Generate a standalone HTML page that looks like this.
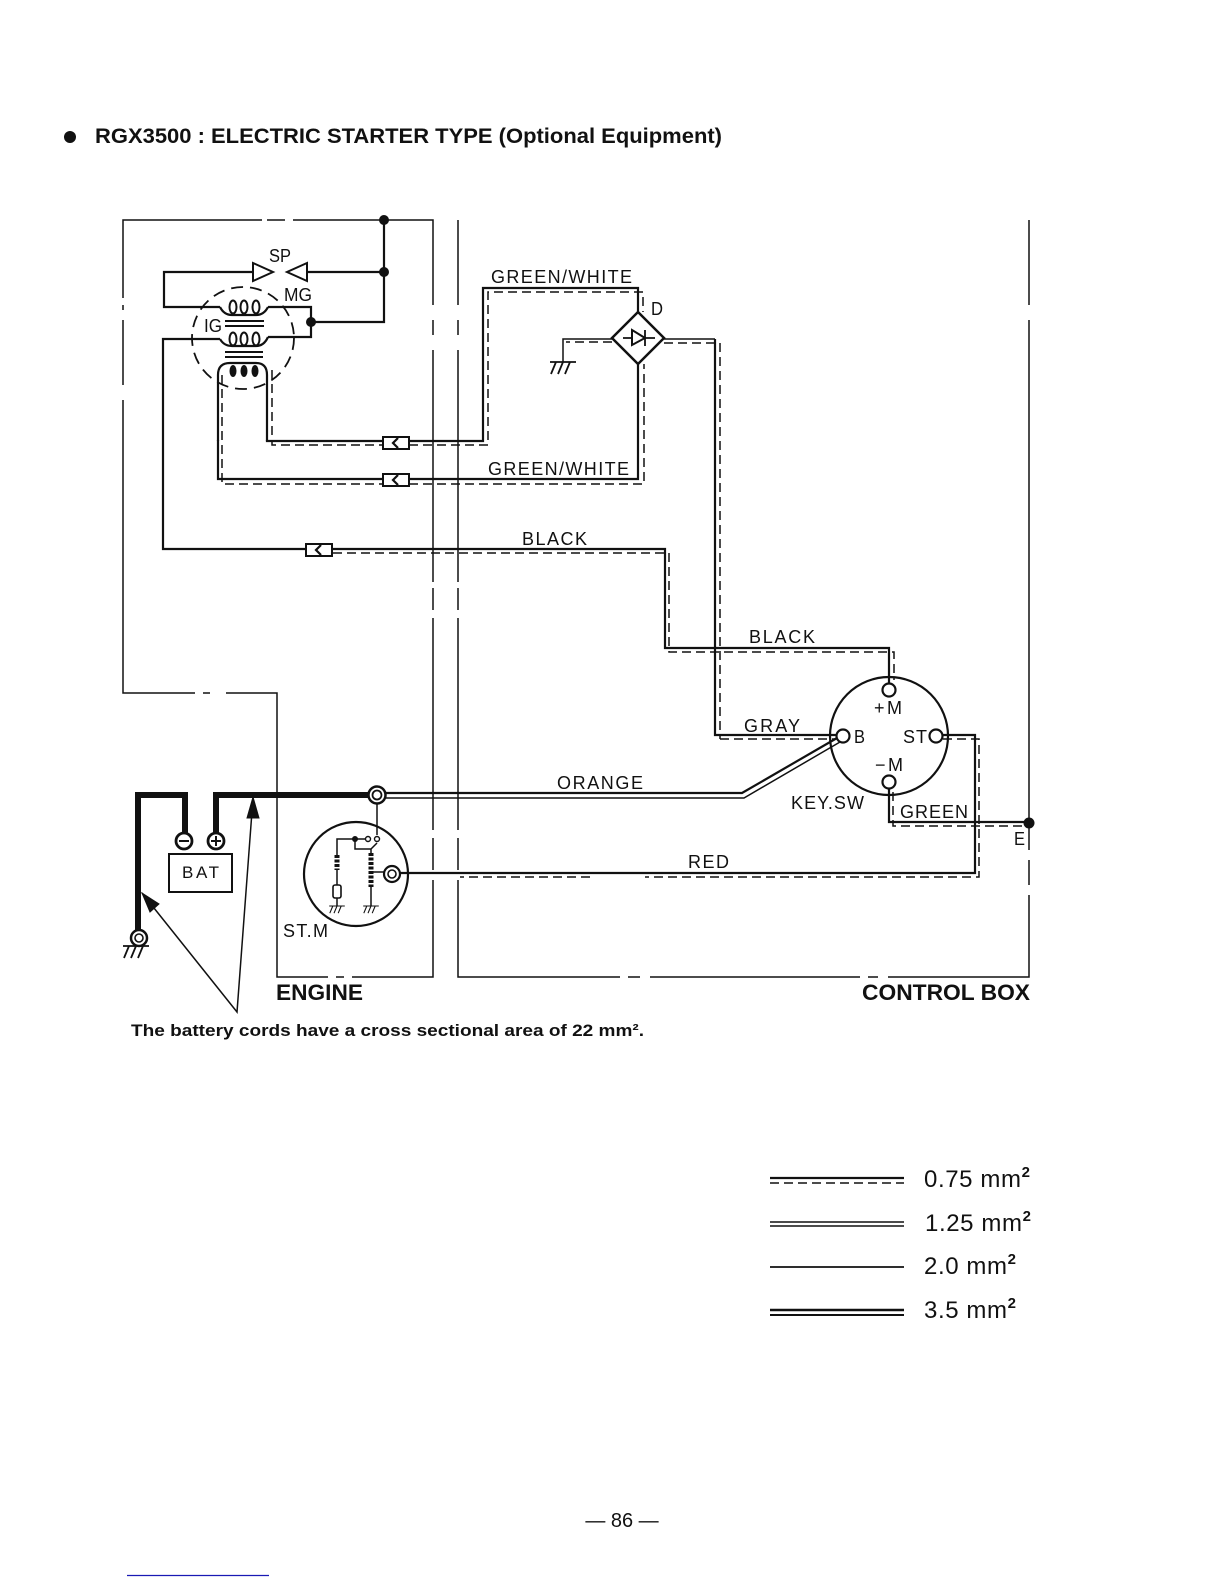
<!DOCTYPE html>
<html><head><meta charset="utf-8"><style>
html,body{margin:0;padding:0;background:#fff}
svg{display:block}
text{font-family:"Liberation Sans",sans-serif;fill:#111}
.w{fill:none;stroke:#111;stroke-width:2.2;stroke-linejoin:miter}
.t{fill:none;stroke:#111;stroke-width:1.5}
.d{fill:none;stroke:#111;stroke-width:1.5;stroke-dasharray:9 5}
.k{fill:none;stroke:#111;stroke-width:6}
.l{font-size:18px}
</style></head><body>
<svg width="1224" height="1584" viewBox="0 0 1224 1584" xmlns="http://www.w3.org/2000/svg">
<defs>
<g id="gnd"><path d="M-13 0H13M-7 0L-12 12M0 0L-5 12M7 0L2 12" fill="none" stroke="#111" stroke-width="1.8"/></g>
<g id="conn"><rect x="0" y="0" width="26" height="12" fill="#fff" stroke="#111" stroke-width="2"/><path d="M15 1L10 6L15 11" fill="none" stroke="#111" stroke-width="2.2"/></g>
</defs>
<circle cx="70" cy="137" r="6" fill="#111"/>
<text x="95" y="143" font-size="21" font-weight="bold" textLength="627" lengthAdjust="spacingAndGlyphs">RGX3500 : ELECTRIC STARTER TYPE (Optional Equipment)</text>

<!-- box outlines -->
<path class="t" d="M123 298V220H262M267 220H285M293 220H433V305M433 320V335M433 350V582M433 588V610M433 618V830M433 838V870M433 880V977H352M344 977H336M328 977H277V693H226M210 693H203M195 693H123V400M123 385V320M123 310V305"/>
<path class="t" d="M458 220V305M458 320V335M458 350V582M458 588V610M458 618V830M458 838V870M458 880V977H620M628 977H640M650 977H860M868 977H878M888 977H1029V895M1029 885V860M1029 850V320M1029 335V320M1029 305V220"/>

<!-- top wiring -->
<path class="w" d="M384 220V322H311M384 272H307M253 272H164V307H220M268 307H311V337H268M220 339H163V549H305"/>
<circle cx="384" cy="220" r="5" fill="#111"/><circle cx="384" cy="272" r="5" fill="#111"/><circle cx="311" cy="322" r="5" fill="#111"/>
<path d="M253 263L273 272L253 281Z M307 263L287 272L307 281Z" fill="#fff" stroke="#111" stroke-width="2"/>
<text class="l" x="269" y="262" textLength="22" lengthAdjust="spacingAndGlyphs">SP</text>
<text class="l" x="284" y="301" textLength="28" lengthAdjust="spacingAndGlyphs">MG</text>
<text class="l" x="204" y="332" textLength="18" lengthAdjust="spacingAndGlyphs">IG</text>
<circle cx="243" cy="338" r="51" fill="none" stroke="#111" stroke-width="1.8" stroke-dasharray="12 7"/>
<path class="w" d="M220 307Q224 315 232 315H256Q264 315 268 307M220 339Q224 346 232 346H256Q264 346 268 337M218 441V375Q218 363 230 363H256Q267 363 267 375V441"/>
<g fill="none" stroke="#111" stroke-width="2"><ellipse cx="233" cy="307" rx="3.5" ry="6.5"/><ellipse cx="244" cy="307" rx="3.5" ry="6.5"/><ellipse cx="256" cy="307" rx="3.5" ry="6.5"/><ellipse cx="233" cy="339" rx="3.5" ry="6.5"/><ellipse cx="244" cy="339" rx="3.5" ry="6.5"/><ellipse cx="256" cy="339" rx="3.5" ry="6.5"/></g>
<g fill="#111"><ellipse cx="233" cy="371" rx="3.5" ry="6"/><ellipse cx="244" cy="371" rx="3.5" ry="6"/><ellipse cx="255" cy="371" rx="3.5" ry="6"/></g>
<path d="M225 321H264M225 326H264M225 352H263M225 357H263" stroke="#111" stroke-width="2" fill="none"/>

<!-- ignition wiring -->
<path class="w" d="M218 440V479H383M267 440V441H383"/>
<path class="d" d="M222 375V484H383M272 370V445H383"/>
<path class="w" d="M409 441H483V288H638V312"/>
<path class="d" d="M409 445H488V292H643V312"/>
<path class="w" d="M409 479H638V364"/>
<path class="d" d="M409 484H644V364"/>
<use href="#conn" x="383" y="437"/><use href="#conn" x="383" y="474"/>
<text class="l" x="491" y="283" textLength="141" lengthAdjust="spacing">GREEN/WHITE</text>
<text class="l" x="488" y="475" textLength="141" lengthAdjust="spacing">GREEN/WHITE</text>
<text class="l" x="651" y="315" textLength="12" lengthAdjust="spacingAndGlyphs">D</text>

<!-- rectifier -->
<path d="M638 312L664 338L638 364L612 338Z" fill="#fff" stroke="#111" stroke-width="2.5"/>
<path d="M623 338H655M645 330V346" stroke="#111" stroke-width="1.8" fill="none"/><path d="M632 330L645 338L632 345Z" fill="#fff" stroke="#111" stroke-width="2"/>
<path class="t" d="M612 339H563V362"/>
<path class="d" d="M612 342H566"/>
<use href="#gnd" x="563" y="362"/>
<path class="t" d="M664 339H715"/><path class="d" d="M664 343H720V739"/>
<path class="w" d="M715 339V735H837"/>
<path class="d" d="M720 739H835"/>
<text class="l" x="744" y="732" textLength="56" lengthAdjust="spacing">GRAY</text>

<!-- black -->
<use href="#conn" x="306" y="544" />
<path class="w" d="M333 549H665V648H889V684"/>
<path class="d" d="M333 553H669V652H894V680"/>
<text class="l" x="522" y="545" font-size="17" textLength="65" lengthAdjust="spacing">BLACK</text>
<text class="l" x="749" y="643" textLength="66" lengthAdjust="spacing">BLACK</text>

<!-- key switch -->
<circle cx="889" cy="736" r="59" fill="none" stroke="#111" stroke-width="2.2"/>
<circle cx="889" cy="690" r="6.5" fill="#fff" stroke="#111" stroke-width="2.2"/>
<circle cx="889" cy="782" r="6.5" fill="#fff" stroke="#111" stroke-width="2.2"/>
<circle cx="843" cy="736" r="6.5" fill="#fff" stroke="#111" stroke-width="2.2"/>
<circle cx="936" cy="736" r="6.5" fill="#fff" stroke="#111" stroke-width="2.2"/>
<text class="l" x="874" y="714" textLength="28" lengthAdjust="spacing">+M</text>
<text class="l" x="854" y="743" textLength="11" lengthAdjust="spacingAndGlyphs">B</text>
<text class="l" x="903" y="743" textLength="24" lengthAdjust="spacing">ST</text>
<text class="l" x="875" y="771" textLength="28" lengthAdjust="spacing">−M</text>
<text class="l" x="791" y="809" textLength="73" lengthAdjust="spacing">KEY.SW</text>
<text class="l" x="900" y="818" textLength="68" lengthAdjust="spacing">GREEN</text>
<text class="l" x="1014" y="845" textLength="11" lengthAdjust="spacingAndGlyphs">E</text>
<path class="w" d="M943 735H975V873H400"/>
<path class="d" d="M943 739H979V877H645M590 877H460"/>
<path class="w" d="M889 789V822H1029"/>
<path class="d" d="M893 792V826H1029"/>
<circle cx="1029" cy="823" r="5.5" fill="#111"/>
<text class="l" x="688" y="868" textLength="41" lengthAdjust="spacing">RED</text>

<!-- orange -->
<path class="w" d="M386 793H742L837 738"/>
<path class="t" d="M386 798H744L840 742"/>
<text class="l" x="557" y="789" textLength="86" lengthAdjust="spacing">ORANGE</text>

<!-- battery -->
<path class="k" d="M138 932V795H185V833M216 833V795H368"/>
<circle cx="184" cy="841" r="8" fill="#fff" stroke="#111" stroke-width="2.8"/><path d="M179 841H189" stroke="#111" stroke-width="2"/>
<circle cx="216" cy="841" r="8" fill="#fff" stroke="#111" stroke-width="2.8"/><path d="M211 841H221M216 836V846" stroke="#111" stroke-width="2"/>
<rect x="169" y="854" width="63" height="38" fill="#fff" stroke="#111" stroke-width="2"/>
<text x="182" y="878" font-size="17" textLength="37" lengthAdjust="spacing">BAT</text>
<circle cx="377" cy="795" r="8.5" fill="#fff" stroke="#111" stroke-width="2.5"/><circle cx="377" cy="795" r="4.5" fill="none" stroke="#111" stroke-width="1.8"/>
<circle cx="139" cy="938" r="8" fill="#fff" stroke="#111" stroke-width="2.5"/><circle cx="139" cy="938" r="4" fill="none" stroke="#111" stroke-width="1.6"/>
<use href="#gnd" x="136" y="946"/>

<!-- starter -->
<path class="t" d="M377 804V835"/>
<circle cx="356" cy="874" r="52" fill="none" stroke="#111" stroke-width="2.2"/>
<path class="t" d="M368 839H337V855M337 870V885M337 898V906M355 839V849H371V853M371 887V906M371 872H384M377 843L371 849"/>
<circle cx="355" cy="839" r="3" fill="#111"/>
<circle cx="368" cy="839" r="2.5" fill="#fff" stroke="#111" stroke-width="1.4"/><circle cx="377" cy="839" r="2.5" fill="#fff" stroke="#111" stroke-width="1.4"/>
<path d="M337 855V870M371 853V887" stroke="#111" stroke-width="5" stroke-dasharray="3 1.5" fill="none"/>
<rect x="333" y="885" width="8" height="13" rx="2" fill="#fff" stroke="#111" stroke-width="1.6"/>
<g transform="translate(337 906) scale(.6)"><use href="#gnd"/></g><g transform="translate(371 906) scale(.6)"><use href="#gnd"/></g>
<circle cx="392" cy="874" r="8" fill="#fff" stroke="#111" stroke-width="2.2"/><circle cx="392" cy="874" r="4" fill="none" stroke="#111" stroke-width="1.6"/>
<text class="l" x="283" y="937" textLength="45" lengthAdjust="spacing">ST.M</text>

<!-- callout -->
<path class="t" d="M142 893L237 1012L253 798" stroke-width="1.3"/>
<path d="M142 893L159 904L150 912Z M253 797L259 818L247 818Z" fill="#111" stroke="#111"/>
<text x="276" y="1000" font-size="22" font-weight="bold" textLength="87" lengthAdjust="spacingAndGlyphs">ENGINE</text>
<text x="862" y="1000" font-size="22" font-weight="bold" textLength="168" lengthAdjust="spacingAndGlyphs">CONTROL BOX</text>
<text x="131" y="1036" font-size="17" font-weight="bold" textLength="513" lengthAdjust="spacingAndGlyphs">The battery cords have a cross sectional area of 22 mm².</text>

<!-- legend -->
<path d="M770 1178H904" stroke="#111" stroke-width="2.2"/><path class="d" d="M770 1183H904" stroke-width="1.6"/>
<path d="M770 1222H904M770 1226H904" stroke="#111" stroke-width="1.5"/>
<path d="M770 1267H904" stroke="#111" stroke-width="1.8"/>
<path d="M770 1310H904" stroke="#111" stroke-width="2.4"/><path d="M770 1315H904" stroke="#111" stroke-width="2"/>
<g font-size="24" letter-spacing=".6"><text x="924" y="1187">0.75 mm<tspan font-size="15" font-weight="bold" dy="-10">2</tspan></text>
<text x="925" y="1231">1.25 mm<tspan font-size="15" font-weight="bold" dy="-10">2</tspan></text>
<text x="924" y="1274">2.0 mm<tspan font-size="15" font-weight="bold" dy="-10">2</tspan></text>
<text x="924" y="1318">3.5 mm<tspan font-size="15" font-weight="bold" dy="-10">2</tspan></text></g>

<text x="622" y="1527" font-size="20" text-anchor="middle">— 86 —</text>
<path d="M127 1575.5H269" stroke="#1a1ab4" stroke-width="1.2"/>
</svg>
</body></html>
